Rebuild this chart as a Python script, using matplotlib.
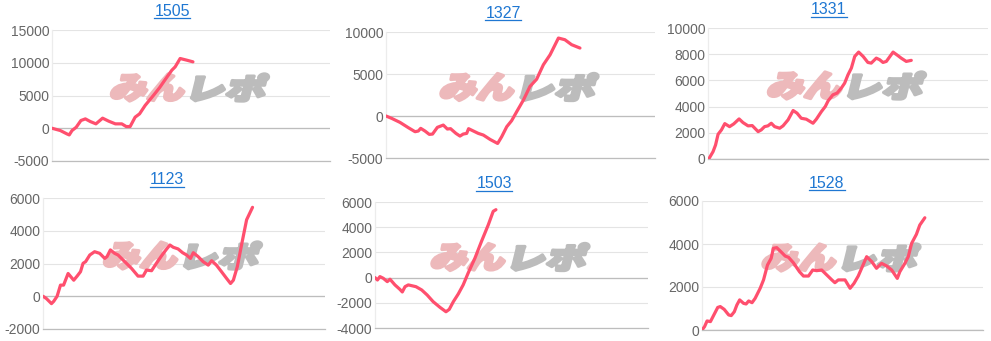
import matplotlib
matplotlib.use("Agg")
import matplotlib.pyplot as plt
from matplotlib.textpath import TextPath
from matplotlib.patches import PathPatch
from matplotlib.font_manager import FontProperties
from matplotlib.transforms import Affine2D, IdentityTransform
from matplotlib.lines import Line2D

plt.rcParams['font.family'] = ['Liberation Sans', 'DejaVu Sans']
plt.rcParams['axes.unicode_minus'] = False

W, H = 991, 341

# chart titles (stock codes)
titles = ['1505', '1327', '1331', '1123', '1503', '1528']

# x positions (share of the plot width, 0-100) and values
x_1505 = [0, 3.0, 5.4, 6.2, 7.2, 8.7, 10.4, 12.0, 13.8, 15.8, 18.2, 20.4, 22.8, 25.1,
          26.7, 28.1, 29.9, 31.5, 33.5, 36.5, 38.7, 40.7, 43.1, 44.3, 46.1, 48.5, 50.7]
y_1505 = [0, -350, -870, -1020, -350, 150, 1180, 1430, 1020, 670, 1540, 1080, 670, 670,
          260, 260, 1690, 2200, 3480, 5020, 6200, 7420, 8860, 9370, 10650, 10390, 10140]

x_1327 = [0, 2.1, 5.2, 8.3, 10.8, 12.0, 12.9, 14.5, 16.1, 17.3, 19.1, 21.3, 22.8, 24.0,
          26.0, 27.5, 28.7, 30.0, 30.7, 32.5, 34.3, 36.2, 38.7, 41.5, 43.0, 44.9, 46.7,
          48.6, 51.1, 53.5, 56.0, 58.5, 61.0, 64.1, 66.5, 69.0, 72.1]
y_1327 = [0, -280, -760, -1390, -1870, -1790, -1470, -1790, -2190, -2150, -1350, -1080,
          -1550, -1510, -2070, -2390, -2150, -2070, -1510, -1790, -2070, -2270, -2790,
          -3270, -2470, -1270, -560, 520, 1910, 3510, 4380, 6100, 7290, 9280, 9080, 8490, 8090]

x_1331 = [0.4, 1.8, 2.7, 3.6, 4.8, 6.0, 7.7, 9.2, 11.1, 12.5, 14.3, 15.8, 17.9, 19.0,
          20.2, 21.4, 22.6, 23.8, 25.6, 26.8, 28.6, 30.4, 31.8, 33.3, 35.1, 37.5, 38.7,
          40.5, 41.9, 42.9, 44.6, 46.1, 47.6, 48.8, 50.0, 51.2, 52.4, 53.8, 55.4, 57.1,
          58.3, 60.1, 61.3, 62.5, 63.7, 66.1, 67.9, 69.0, 70.8, 72.6]
y_1331 = [50, 560, 1070, 1890, 2220, 2700, 2470, 2680, 3060, 2780, 2530, 2550, 2090, 2220,
          2470, 2530, 2730, 2470, 2350, 2530, 2990, 3700, 3500, 3110, 3040, 2730, 3040,
          3620, 4010, 4440, 4900, 5030, 5410, 5790, 6430, 6940, 7830, 8160, 7830, 7370,
          7320, 7700, 7580, 7370, 7450, 8160, 7880, 7700, 7450, 7530]

x_1123 = [0, 1.2, 3.0, 3.8, 5.0, 6.2, 7.3, 8.9, 10.9, 12.1, 13.3, 14.2, 15.1, 16.6, 18.3,
          20.1, 21.9, 22.7, 23.9, 25.4, 26.6, 29.0, 31.4, 33.7, 35.5, 36.7, 38.5, 40.2,
          42.0, 43.6, 45.0, 46.2, 47.9, 49.5, 50.9, 52.3, 53.3, 55.0, 56.8, 58.6, 59.8,
          61.5, 63.3, 65.1, 66.5, 67.5, 68.9, 70.4, 72.2, 74.3]
y_1123 = [0, -140, -450, -310, 0, 680, 680, 1390, 980, 1230, 1500, 2010, 2110, 2520, 2720,
          2620, 2310, 2420, 2830, 2620, 2520, 2110, 1700, 1230, 1230, 1600, 1560, 2010,
          2460, 2830, 3130, 2990, 2890, 2660, 2520, 2310, 2660, 2420, 2110, 1900, 2170,
          1900, 1500, 1090, 780, 980, 1800, 3130, 4670, 5430]

x_1503 = [0, 0.9, 1.8, 3.0, 4.5, 5.5, 7.3, 9.1, 10.0, 11.0, 12.2, 15.0, 17.1, 19.1, 21.3,
          23.8, 26.0, 27.2, 28.7, 30.5, 32.3, 34.1, 36.6, 39.0, 41.5, 43.3, 44.3]
y_1503 = [0, -190, 80, -50, -320, -130, -580, -930, -1140, -720, -580, -720, -980, -1380,
          -1910, -2360, -2710, -2520, -1910, -1300, -580, 350, 1540, 2870, 4190, 5260, 5390]

x_1528 = [0, 0.9, 1.8, 3.0, 4.1, 5.6, 6.5, 7.9, 9.5, 10.4, 11.5, 12.4, 13.4, 14.8, 15.7,
          16.6, 17.8, 18.9, 20.7, 21.9, 23.3, 24.6, 25.4, 26.6, 28.4, 29.6, 30.8, 32.5,
          34.7, 36.1, 37.9, 39.4, 40.8, 42.6, 44.4, 46.2, 47.3, 48.5, 50.9, 52.7, 54.1,
          55.6, 56.8, 58.6, 60.4, 62.1, 63.9, 65.7, 67.5, 69.5, 70.4, 72.2, 73.4, 74.6,
          76.3, 77.5, 79.3]
y_1528 = [0, 155, 420, 390, 670, 1050, 1090, 960, 700, 670, 850, 1160, 1400, 1240, 1210,
          1350, 1270, 1470, 1940, 2330, 3020, 3330, 3800, 3830, 3600, 3440, 3380, 3130,
          2710, 2510, 2510, 2790, 2760, 2790, 2560, 2330, 2200, 2330, 2330, 1940, 2170,
          2510, 2870, 3410, 3180, 2870, 3100, 2980, 2790, 2400, 2710, 3100, 3410, 4030,
          4450, 4880, 5220]

xs = [x_1505, x_1327, x_1331, x_1123, x_1503, x_1528]
ys = [y_1505, y_1327, y_1331, y_1123, y_1503, y_1528]

yticks = [
    [-5000, 0, 5000, 10000, 15000],
    [-5000, 0, 5000, 10000],
    [0, 2000, 4000, 6000, 8000, 10000],
    [-2000, 0, 2000, 4000, 6000],
    [-4000, -2000, 0, 2000, 4000, 6000],
    [0, 2000, 4000, 6000],
]

# plot boxes in pixels: left, right, top, bottom (top-left origin)
boxes = [
    (52, 330, 30, 161),
    (386, 655, 32, 158),
    (708, 988, 28, 159),
    (43, 325, 198, 329),
    (375, 648, 202, 328),
    (702, 983, 201, 330),
]
title_pos = [(172, 11), (503, 13), (829, 10), (167, 180), (494, 184), (827, 183)]

line_color = '#ff4f6e'
link_color = '#1f77d2'

fig = plt.figure(figsize=(W / 100, H / 100), dpi=100)
fig.patch.set_facecolor('white')

wm_font = FontProperties(family='Noto Sans CJK JP', weight='black')


def add_watermark(ax, cx, cy):
    # "みんレポ" logo, pink then gray, leaning like italic
    parts = [('みん', '#edb9bb', cx - 78), ('レポ', '#bcbcbc', cx + 3)]
    for txt, col, x0 in parts:
        tp = TextPath((0, 0), txt, size=40, prop=wm_font)
        ext = tp.get_extents()
        w, h = 72, 27
        tr = (Affine2D()
              .translate(-ext.x0, -ext.y0)
              .scale(w / ext.width, h / ext.height)
              .translate(0, -h / 2)
              .skew_deg(14, 0)
              .translate(x0, cy))
        patch = PathPatch(tr.transform_path(tp), facecolor=col, edgecolor=col,
                          lw=2.4, joinstyle='round', transform=IdentityTransform(),
                          zorder=1.5)
        patch.set_clip_on(False)
        ax.add_artist(patch)


title_texts = []
for i in range(6):
    L, R, T, B = boxes[i]
    ax = fig.add_axes([L / W, (H - B) / H, (R - L) / W, (B - T) / H])
    ax.plot(xs[i], ys[i], color=line_color, lw=2.3, solid_joinstyle='round',
            solid_capstyle='round', zorder=3)
    ax.set_xlim(0, 100)
    ax.set_ylim(yticks[i][0], yticks[i][-1])
    ax.set_yticks(yticks[i], labels=[str(t) for t in yticks[i]])
    ax.set_xticks([])
    ax.tick_params(axis='y', length=0, pad=2, labelsize=10, labelcolor='#666666')
    ax.grid(axis='y', color='#e4e4e4', lw=0.8, zorder=0)
    ax.set_axisbelow(True)
    ax.axhline(0, color='#bdbdbd', lw=0.9, zorder=1)
    for s in ['top', 'right']:
        ax.spines[s].set_visible(False)
    ax.spines['left'].set_color('#ececec')
    ax.spines['left'].set_linewidth(0.9)
    ax.spines['bottom'].set_color('#bdbdbd')
    ax.spines['bottom'].set_linewidth(0.9)

    add_watermark(ax, (L + R) / 2, H - ((T + B) / 2 - 8))

    tx, ty = title_pos[i]
    t = fig.text(tx / W, (H - ty) / H, titles[i], ha='center', va='center',
                 fontsize=11.5, color=link_color)
    title_texts.append(t)

# underline the title links
fig.canvas.draw()
renderer = fig.canvas.get_renderer()
for t in title_texts:
    bb = t.get_window_extent(renderer)
    y = bb.y0 + 1
    fig.add_artist(Line2D([bb.x0, bb.x1], [y, y], color=link_color, lw=0.9,
                          transform=IdentityTransform()))

fig.savefig('out.png', dpi=100)
